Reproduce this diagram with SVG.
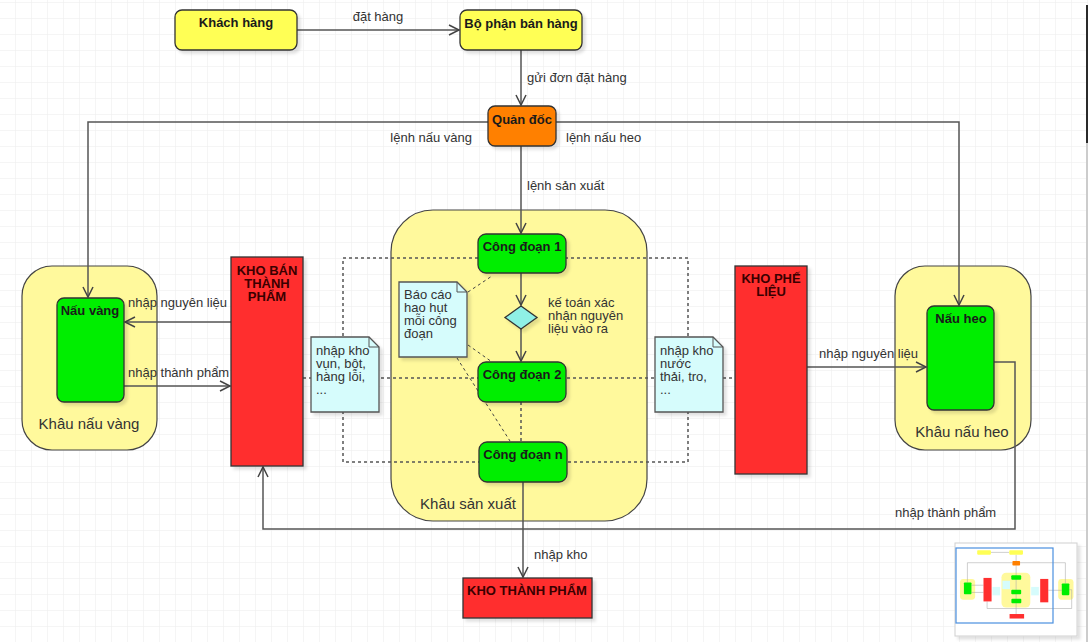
<svg xmlns="http://www.w3.org/2000/svg" width="1088" height="642" viewBox="0 0 1088 642">
  <defs>
    <pattern id="grid" x="15" y="2" width="16" height="16" patternUnits="userSpaceOnUse">
      <path d="M0,0 H16 M0,0 V16" fill="none" stroke="#ebebeb" stroke-width="1"/>
    </pattern>
    <marker id="arrow" markerUnits="userSpaceOnUse" markerWidth="12" markerHeight="12" refX="10" refY="5" orient="auto" overflow="visible">
      <path d="M0,0 L10,5 L0,10" fill="none" stroke="#444" stroke-width="1.5"/>
    </marker>
    <filter id="shadow" x="-10%" y="-10%" width="130%" height="130%">
      <feOffset dx="3" dy="3" in="SourceAlpha" result="o"/>
      <feGaussianBlur in="o" stdDeviation="1.5" result="b"/>
      <feColorMatrix in="b" type="matrix" values="0 0 0 0 0  0 0 0 0 0  0 0 0 0 0  0 0 0 0.12 0"/>
      <feMerge><feMergeNode/><feMergeNode in="SourceGraphic"/></feMerge>
    </filter>
  </defs>
  <style>
    text { font-family: "Liberation Sans", Arial, sans-serif; }
    .node { stroke: #333; stroke-width: 1.3; filter: url(#shadow); }
    .yellow { fill: #ffff55; }
    .orange { fill: #ff8000; }
    .green { fill: #00ee00; }
    .red { fill: #ff2f2f; }
    .zone { fill: #fff99c; stroke: #444; stroke-width: 1.2; }
    .note { fill: #d6fcfc; stroke: #555; stroke-width: 1.3; filter: url(#shadow); }
    .title { font-size: 13px; font-weight: bold; fill: #1a1a1a; text-anchor: middle; }
    .kho { font-size: 13px; font-weight: bold; fill: #3a0000; text-anchor: middle; }
    .lbl { font-size: 13px; fill: #333; }
    .zlbl { font-size: 15px; fill: #333; text-anchor: middle; }
    .ntxt { font-size: 13px; fill: #333; }
    .edge { fill: none; stroke: #555; stroke-width: 1.5; }
    .dot { fill: none; stroke: #555; stroke-width: 1.5; stroke-dasharray: 3 3; }
    .link { fill: none; stroke: #444; stroke-width: 1; stroke-dasharray: 3 3; }
  </style>

  <!-- canvas -->
  <rect width="1088" height="642" fill="#ffffff"/>
  <rect width="1088" height="642" fill="url(#grid)"/>

  <!-- containers -->
  <g id="khau-nau-vang">
    <rect class="zone" x="22" y="266" width="135" height="184" rx="30"/>
    <text class="zlbl" x="89" y="429">Khâu nấu vàng</text>
  </g>
  <g id="khau-san-xuat">
    <rect class="zone" x="391" y="210" width="256" height="311" rx="42"/>
    <text class="zlbl" x="468" y="509">Khâu sản xuất</text>
  </g>
  <g id="khau-nau-heo">
    <rect class="zone" x="895" y="266" width="136" height="184" rx="30"/>
    <text class="zlbl" x="962" y="437">Khâu nấu heo</text>
  </g>

  <!-- connectors -->
  <g id="connectors">
    <!-- dotted waste frame -->
    <rect class="dot" x="343" y="258" width="345" height="204"/>
    <path class="dot" d="M303,378 H735"/>
    <path class="dot" d="M521,402 V441"/>
    <!-- note links -->
    <path class="link" d="M468,292 L492,276"/>
    <path class="link" d="M468,345 L492,362"/>
    <path class="link" d="M457,358 L510,441"/>

    <path class="edge" d="M297,30 H459" marker-end="url(#arrow)"/>
    <text class="lbl" x="378" y="21" text-anchor="middle">đặt hàng</text>

    <path class="edge" d="M521,50 V105" marker-end="url(#arrow)"/>
    <text class="lbl" x="527" y="82">gửi đơn đặt hàng</text>

    <path class="edge" d="M488,122 H88 V297" marker-end="url(#arrow)"/>
    <text class="lbl" x="472" y="142" text-anchor="end">lệnh nấu vàng</text>

    <path class="edge" d="M556,122 H959 V305" marker-end="url(#arrow)"/>
    <text class="lbl" x="566" y="142">lệnh nấu heo</text>

    <path class="edge" d="M521,146 V233" marker-end="url(#arrow)"/>
    <text class="lbl" x="527" y="190">lệnh sản xuất</text>

    <path class="edge" d="M521,273 V305" marker-end="url(#arrow)"/>
    <path class="edge" d="M521,329 V361" marker-end="url(#arrow)"/>

    <path class="edge" d="M523,482 V577" marker-end="url(#arrow)"/>
    <text class="lbl" x="534" y="559">nhập kho</text>

    <path class="edge" d="M231,322 H125" marker-end="url(#arrow)"/>
    <text class="lbl" x="128" y="307">nhập nguyên liệu</text>

    <path class="edge" d="M124,386 H230" marker-end="url(#arrow)"/>
    <text class="lbl" x="128" y="377">nhập thành phẩm</text>

    <path class="edge" d="M807,367 H926" marker-end="url(#arrow)"/>
    <text class="lbl" x="819" y="358">nhập nguyên liệu</text>

    <path class="edge" d="M994,362 H1015 V529 H263 V467" marker-end="url(#arrow)"/>
    <text class="lbl" x="895" y="517">nhập thành phẩm</text>
  </g>

  <!-- nodes -->
  <g id="khach-hang">
    <rect class="node yellow" x="175" y="10" width="122" height="40" rx="7"/>
    <text class="title" x="236" y="27">Khách hàng</text>
  </g>
  <g id="bo-phan-ban-hang">
    <rect class="node yellow" x="460" y="10" width="122" height="40" rx="7"/>
    <text class="title" x="521" y="28">Bộ phận bán hàng</text>
  </g>
  <g id="quan-doc">
    <rect class="node orange" x="488" y="106" width="68" height="40" rx="7"/>
    <text class="title" x="522" y="124">Quản đốc</text>
  </g>

  <g id="nau-vang">
    <rect class="node green" x="57" y="298" width="67" height="104" rx="7"/>
    <text class="title" x="90" y="315">Nấu vàng</text>
  </g>
  <g id="nau-heo">
    <rect class="node green" x="927" y="306" width="67" height="104" rx="7"/>
    <text class="title" x="961" y="323">Nấu heo</text>
  </g>

  <g id="kho-ban-thanh-pham">
    <rect class="node red" x="231" y="257" width="72" height="209"/>
    <text class="kho" x="267" y="275">KHO BÁN</text>
    <text class="kho" x="267" y="288">THÀNH</text>
    <text class="kho" x="267" y="301">PHẨM</text>
  </g>
  <g id="kho-phe-lieu">
    <rect class="node red" x="735" y="266" width="72" height="208"/>
    <text class="kho" x="771" y="283">KHO PHẾ</text>
    <text class="kho" x="771" y="296">LIỆU</text>
  </g>
  <g id="kho-thanh-pham">
    <rect class="node red" x="463" y="578" width="129" height="40"/>
    <text class="kho" x="527" y="595">KHO THÀNH PHẨM</text>
  </g>

  <g id="cong-doan-1">
    <rect class="node green" x="478" y="234" width="88" height="39" rx="8"/>
    <text class="title" x="522" y="251">Công đoạn 1</text>
  </g>
  <g id="kiem-tra">
    <path class="node" d="M521,306 L537,317.5 L521,329 L505,317.5 Z" fill="#8ff0e6"/>
    <text class="ntxt" x="548" y="307">kế toán xác</text>
    <text class="ntxt" x="548" y="320">nhận nguyên</text>
    <text class="ntxt" x="548" y="333">liệu vào ra</text>
  </g>
  <g id="cong-doan-2">
    <rect class="node green" x="478" y="362" width="88" height="40" rx="8"/>
    <text class="title" x="522" y="379">Công đoạn 2</text>
  </g>
  <g id="cong-doan-n">
    <rect class="node green" x="479" y="442" width="88" height="40" rx="8"/>
    <text class="title" x="523" y="459">Công đoạn n</text>
  </g>

  <!-- notes -->
  <g id="note-hao-hut">
    <path class="note" d="M399,282 H457 L467,292 V357 H399 Z"/>
    <path d="M457,282 V292 H467" fill="none" stroke="#555" stroke-width="1"/>
    <text class="ntxt" x="404" y="299">Báo cáo</text>
    <text class="ntxt" x="404" y="312">hao hụt</text>
    <text class="ntxt" x="404" y="325">mỗi công</text>
    <text class="ntxt" x="404" y="338">đoạn</text>
  </g>
  <g id="note-kho-vun">
    <path class="note" d="M311,337 H369 L379,347 V412 H311 Z"/>
    <path d="M369,337 V347 H379" fill="none" stroke="#555" stroke-width="1"/>
    <text class="ntxt" x="316" y="355">nhập kho</text>
    <text class="ntxt" x="316" y="368">vụn, bột,</text>
    <text class="ntxt" x="316" y="381">hàng lỗi,</text>
    <text class="ntxt" x="316" y="394">...</text>
  </g>
  <g id="note-nuoc-thai">
    <path class="note" d="M655,337 H713 L723,347 V412 H655 Z"/>
    <path d="M713,337 V347 H723" fill="none" stroke="#555" stroke-width="1"/>
    <text class="ntxt" x="660" y="355">nhập kho</text>
    <text class="ntxt" x="660" y="368">nước</text>
    <text class="ntxt" x="660" y="381">thải, tro,</text>
    <text class="ntxt" x="660" y="394">...</text>
  </g>

  <!-- overview panel -->
  <g id="overview">
    <rect x="955" y="543" width="122" height="93" fill="#ffffff" stroke="#d0d0d0" stroke-width="1" filter="url(#shadow)"/>
    <g transform="translate(957.5,549) scale(0.1125)" stroke="none">
      <rect x="22" y="266" width="135" height="184" rx="30" fill="#fff99c"/>
      <rect x="391" y="210" width="256" height="311" rx="42" fill="#fff99c"/>
      <rect x="895" y="266" width="136" height="184" rx="30" fill="#fff99c"/>
      <g fill="none" stroke="#aaa" stroke-width="5">
        <path d="M297,30 H460 M521,50 V106 M488,122 H88 V298 M556,122 H959 V306 M521,146 V578 M994,362 H1015 V529 H263 V466 M231,322 H124 M124,386 H231 M807,367 H927"/>
      </g>
      <rect x="175" y="10" width="122" height="40" rx="7" fill="#ffff55"/>
      <rect x="460" y="10" width="122" height="40" rx="7" fill="#ffff55"/>
      <rect x="488" y="106" width="68" height="40" rx="7" fill="#ff8000"/>
      <rect x="57" y="298" width="67" height="104" rx="7" fill="#00ee00"/>
      <rect x="927" y="306" width="67" height="104" rx="7" fill="#00ee00"/>
      <rect x="231" y="257" width="72" height="209" fill="#ff2f2f"/>
      <rect x="735" y="266" width="72" height="208" fill="#ff2f2f"/>
      <rect x="463" y="578" width="129" height="40" fill="#ff2f2f"/>
      <rect x="478" y="234" width="88" height="39" rx="8" fill="#00ee00"/>
      <rect x="478" y="362" width="88" height="40" rx="8" fill="#00ee00"/>
      <rect x="479" y="442" width="88" height="40" rx="8" fill="#00ee00"/>
      <rect x="399" y="282" width="68" height="75" fill="#d6fcfc"/>
      <rect x="311" y="337" width="68" height="75" fill="#d6fcfc"/>
      <rect x="655" y="337" width="68" height="75" fill="#d6fcfc"/>
    </g>
    <rect x="956" y="548" width="97" height="75" fill="none" stroke="#4a8fe0" stroke-width="1.2"/>
  </g>

  <!-- scrollbar -->
  <rect x="1086" y="143" width="2" height="499" fill="#cccccc"/>
  <rect x="1086" y="5" width="2" height="138" fill="#2a2a2a"/>
</svg>
